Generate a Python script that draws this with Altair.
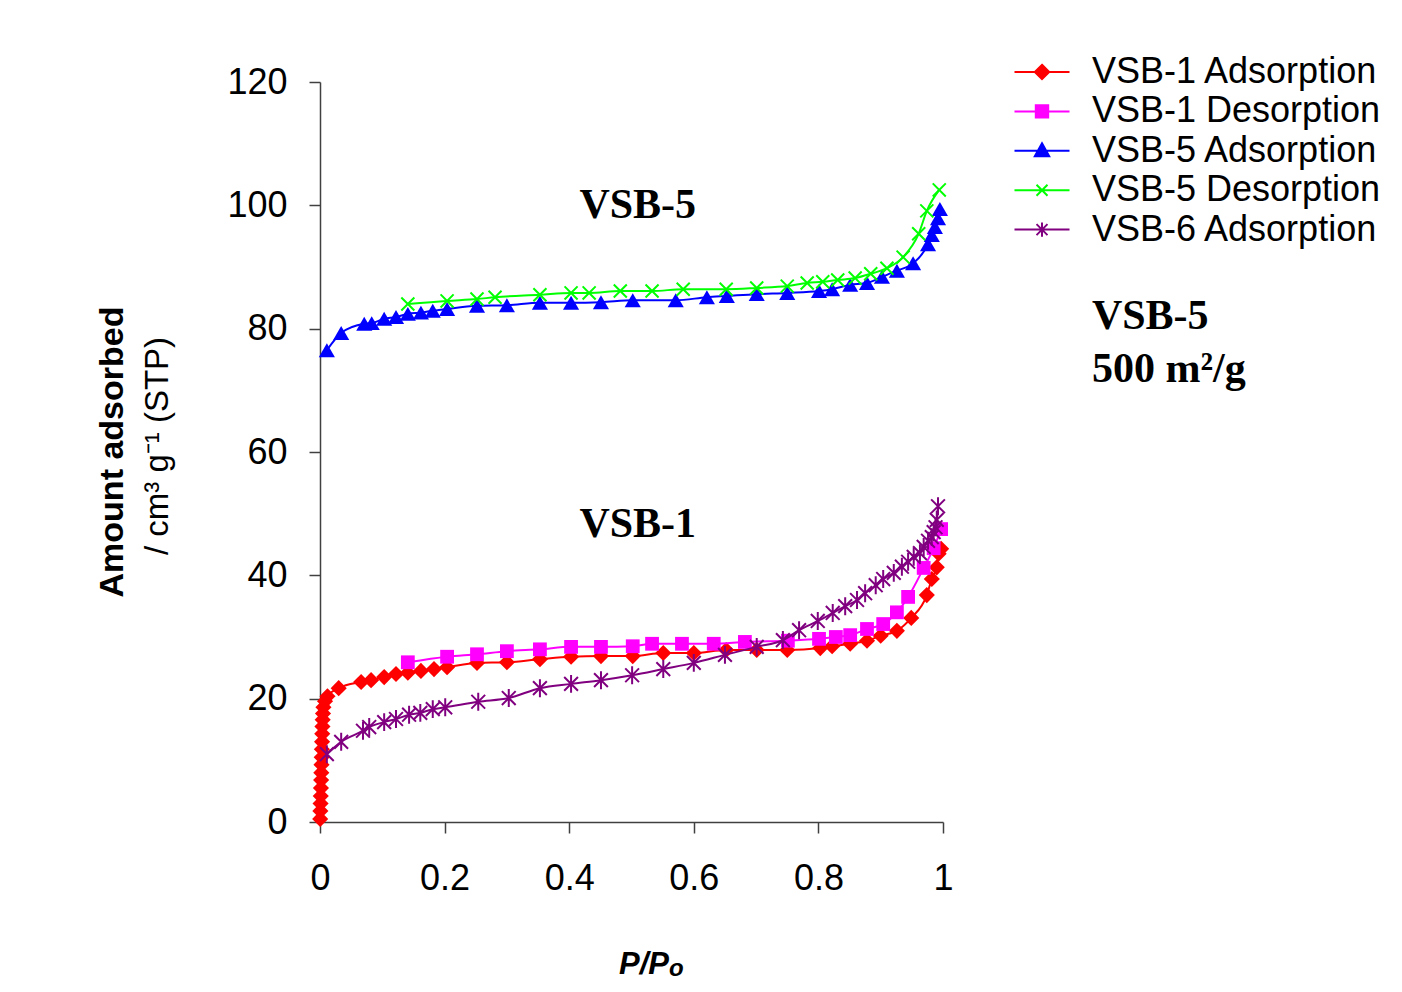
import altair as alt
import pandas as pd

# ---------------- data ----------------
# VSB-1 Adsorption
v1a_x = [0.0003, 0.0006, 0.0009, 0.0012, 0.0015, 0.0018, 0.0021, 0.0024, 0.0027, 0.0030,
         0.0033, 0.0036, 0.0039, 0.0043, 0.0048, 0.0055, 0.008, 0.012,
         0.030, 0.066, 0.082, 0.103, 0.122, 0.141, 0.162, 0.183, 0.204, 0.252, 0.300,
         0.353, 0.403, 0.451, 0.502, 0.551, 0.600, 0.652, 0.701, 0.750, 0.803, 0.822,
         0.851, 0.878, 0.900, 0.926, 0.949, 0.974, 0.982, 0.990, 0.993, 0.997]
v1a_y = [0.5, 1.8, 3.0, 4.2, 5.5, 6.8, 8.0, 9.3, 10.5, 11.8,
         13.0, 14.3, 15.5, 16.6, 17.6, 18.6, 19.6, 20.4,
         21.7, 22.7, 23.0, 23.5, 24.0, 24.2, 24.5, 24.8, 25.1, 25.8, 25.9,
         26.4, 26.8, 26.9, 26.9, 27.4, 27.4, 27.9, 27.9, 27.9, 28.2, 28.5,
         28.9, 29.4, 30.2, 31.0, 33.1, 36.8, 39.4, 41.3, 43.5, 44.3]

# VSB-1 Desorption
v1d_x = [0.141, 0.204, 0.252, 0.300, 0.353, 0.403, 0.451, 0.502, 0.533, 0.581, 0.632,
         0.682, 0.751, 0.801, 0.828, 0.851, 0.878, 0.904, 0.926, 0.944, 0.969, 0.985, 0.997]
v1d_y = [25.9, 26.8, 27.2, 27.7, 28.0, 28.4, 28.4, 28.5, 28.9, 28.9, 28.9,
         29.2, 29.4, 29.7, 30.0, 30.3, 31.3, 32.1, 34.0, 36.5, 41.2, 44.4, 47.5]

# VSB-5 Adsorption
v5a_x = [0.011, 0.034, 0.071, 0.083, 0.103, 0.122, 0.141, 0.162, 0.181, 0.204, 0.252, 0.300,
         0.353, 0.403, 0.451, 0.502, 0.571, 0.621, 0.653, 0.701, 0.750, 0.801, 0.822, 0.851,
         0.878, 0.902, 0.926, 0.952, 0.976, 0.982, 0.987, 0.992, 0.995]
v5a_y = [76.5, 79.3, 80.8, 80.9, 81.6, 81.9, 82.4, 82.6, 82.9, 83.2, 83.7, 83.8,
         84.2, 84.2, 84.3, 84.6, 84.6, 85.1, 85.3, 85.6, 85.8, 86.1, 86.4, 87.1,
         87.4, 88.4, 89.4, 90.6, 93.7, 95.2, 96.5, 97.9, 99.4]

# VSB-5 Desorption
v5d_x = [0.141, 0.204, 0.252, 0.281, 0.353, 0.403, 0.432, 0.482, 0.533, 0.583, 0.652, 0.701,
         0.750, 0.782, 0.807, 0.831, 0.859, 0.884, 0.910, 0.936, 0.961, 0.974, 0.994]
v5d_y = [84.0, 84.5, 84.8, 85.1, 85.5, 85.8, 85.8, 86.1, 86.1, 86.4, 86.4, 86.6,
         86.9, 87.4, 87.6, 87.9, 88.2, 88.9, 89.8, 91.6, 95.4, 99.1, 102.5]

# VSB-6 Adsorption
v6a_x = [0.011, 0.034, 0.069, 0.079, 0.103, 0.122, 0.143, 0.161, 0.181, 0.201, 0.254, 0.303,
         0.353, 0.403, 0.451, 0.501, 0.551, 0.600, 0.650, 0.701, 0.743, 0.769, 0.799, 0.823,
         0.843, 0.862, 0.875, 0.892, 0.904, 0.921, 0.934, 0.944, 0.953, 0.963, 0.969, 0.976,
         0.982, 0.985, 0.988, 0.990, 0.992]
v6a_y = [11.0, 13.0, 14.8, 15.4, 16.2, 16.7, 17.4, 17.7, 18.3, 18.6, 19.5, 20.1,
         21.7, 22.4, 23.0, 23.8, 24.8, 25.8, 27.1, 28.4, 29.5, 31.1, 32.6, 33.9,
         35.0, 36.0, 37.1, 38.4, 39.4, 40.4, 41.4, 42.2, 43.0, 43.6, 44.6, 45.6,
         46.2, 47.0, 47.8, 49.0, 51.2]

series_names = ["VSB-1 Adsorption", "VSB-1 Desorption", "VSB-5 Adsorption",
                "VSB-5 Desorption", "VSB-6 Adsorption"]
series_colors = ["#FF0000", "#FF00FF", "#0000FF", "#00FF00", "#800080"]
x_ticks = [0, 0.2, 0.4, 0.6, 0.8, 1]
y_ticks = [0, 20, 40, 60, 80, 100, 120]

# ---------------- styling ----------------
FONT = "Liberation Sans"
SERIF = "Liberation Serif"
W, H = 623, 740
X_PATH = "M-1,-1L1,1M-1,1L1,-1"
STAR_PATH = "M-1,-1L1,1M-1,1L1,-1M0,-1.3V1.3"
marker_shapes = ["diamond", "square", "triangle-up", X_PATH, STAR_PATH]
marker_sizes = [260, 190, 260, 170, 190]
marker_filled = [True, True, True, False, False]

legend_paths = [
    "M-2.75,0H2.75M0,-0.72L0.72,0L0,0.72L-0.72,0Z",
    "M-2.75,0H2.75M-0.62,-0.62H0.62V0.62H-0.62Z",
    "M-2.75,0H2.75M0,-0.75L0.72,0.55H-0.72Z",
    "M-2.75,0H2.75M-0.55,-0.55L0.55,0.55M-0.55,0.55L0.55,-0.55",
    "M-2.75,0H2.75M-0.55,-0.55L0.55,0.55M-0.55,0.55L0.55,-0.55M0,-0.72V0.72",
]

xs = [v1a_x, v1d_x, v5a_x, v5d_x, v6a_x]
ys = [v1a_y, v1d_y, v5a_y, v5d_y, v6a_y]

x_scale = alt.Scale(domain=[0, 1], nice=False, zero=False)
y_scale = alt.Scale(domain=[0, 120], nice=False)
x_axis = alt.Axis(values=x_ticks, format="~g", grid=False, title=None,
                  labelFont=FONT, labelFontSize=36, labelColor="black",
                  labelPadding=28, tickSize=11, tickColor="#404040",
                  domainColor="#404040", domainWidth=1.5, tickWidth=1.5, labelFlush=False)
y_axis = alt.Axis(values=y_ticks, grid=False, title=None,
                  labelFont=FONT, labelFontSize=36, labelColor="black",
                  labelPadding=22, tickSize=11, tickColor="#404040",
                  domainColor="#404040", domainWidth=1.5, tickWidth=1.5)

X = alt.X("p:Q", scale=x_scale, axis=x_axis)
Y = alt.Y("v:Q", scale=y_scale, axis=y_axis)

layers = []
for i, name in enumerate(series_names):
    df = pd.DataFrame({"p": xs[i], "v": ys[i], "series": name})
    base = alt.Chart(df)
    line = base.mark_line(interpolate="monotone", color=series_colors[i],
                          strokeWidth=2, clip=False).encode(x=X, y=Y)
    if marker_filled[i]:
        pts = base.mark_point(shape=marker_shapes[i], filled=True, opacity=1,
                              color=series_colors[i], size=marker_sizes[i])
    else:
        pts = base.mark_point(shape=marker_shapes[i], filled=False, opacity=1,
                              color=series_colors[i], size=marker_sizes[i], strokeWidth=2)
    layers += [line, pts.encode(x=X, y=Y)]

# legend (entries taken from the scale domain, no marks drawn in the plot)
legend_df = pd.DataFrame({"p": [0.5] * 5, "v": [50] * 5, "series": series_names})
leg = alt.Legend(orient="none", legendX=704, legendY=-28, title=None,
                 labelFont=FONT, labelFontSize=36, labelColor="black",
                 labelOffset=32, rowPadding=3.4, symbolStrokeWidth=2,
                 symbolSize=400, symbolOpacity=1, padding=0, labelLimit=600)
legend_layer = alt.Chart(legend_df).transform_filter("false").mark_point(
    filled=True, size=400, strokeWidth=2, opacity=1
).encode(
    x=X, y=Y,
    fill=alt.Fill("series:N", scale=alt.Scale(domain=series_names, range=series_colors), legend=leg),
    stroke=alt.Stroke("series:N", scale=alt.Scale(domain=series_names, range=series_colors), legend=leg),
    shape=alt.Shape("series:N", scale=alt.Scale(domain=series_names, range=legend_paths), legend=leg),
)
layers.append(legend_layer)

# annotations in data space
ann_txt = ["VSB-5", "VSB-1", "VSB-5", "500 m²/g"]
ann_x = [0.51, 0.51, 1.239, 1.239]
ann_y = [100.1, 48.3, 82.0, 73.5]
ann_align = ["center", "center", "left", "left"]
ann_df = pd.DataFrame({"p": ann_x, "v": ann_y, "t": ann_txt, "a": ann_align})
for a in ["center", "left"]:
    layers.append(
        alt.Chart(ann_df[ann_df["a"] == a]).mark_text(
            font=SERIF, fontWeight="bold", fontSize=42, color="black",
            align=a, baseline="middle", clip=False
        ).encode(x=X, y=Y, text="t:N")
    )

# axis titles
layers.append(alt.Chart(pd.DataFrame({"t": ["Amount adsorbed"]})).mark_text(
    font=FONT, fontWeight="bold", fontSize=34, angle=270, align="center",
    baseline="middle", color="black").encode(
    x=alt.value(-207), y=alt.value(370), text="t:N"))
layers.append(alt.Chart(pd.DataFrame({"t": ["/ cm³ g⁻¹ (STP)"]})).mark_text(
    font=FONT, fontSize=33, angle=270, align="center",
    baseline="middle", color="black").encode(
    x=alt.value(-162), y=alt.value(364), text="t:N"))
layers.append(alt.Chart(pd.DataFrame({"t": ["P/P"]})).mark_text(
    font=FONT, fontWeight="bold", fontStyle="italic", fontSize=31, align="right",
    baseline="alphabetic", color="black").encode(
    x=alt.value(349), y=alt.value(892), text="t:N"))
layers.append(alt.Chart(pd.DataFrame({"t": ["o"]})).mark_text(
    font=FONT, fontWeight="bold", fontStyle="italic", fontSize=24, align="left",
    baseline="alphabetic", color="black").encode(
    x=alt.value(349), y=alt.value(894), text="t:N"))

chart = alt.layer(*layers).properties(
    width=W, height=H,
    autosize=alt.AutoSizeParams(type="none"),
    padding={"left": 312, "top": 74, "right": 451, "bottom": 161},
    background="white",
).configure_view(stroke=None)

chart.save("out.html", embed_options={"renderer": "svg", "actions": False})
